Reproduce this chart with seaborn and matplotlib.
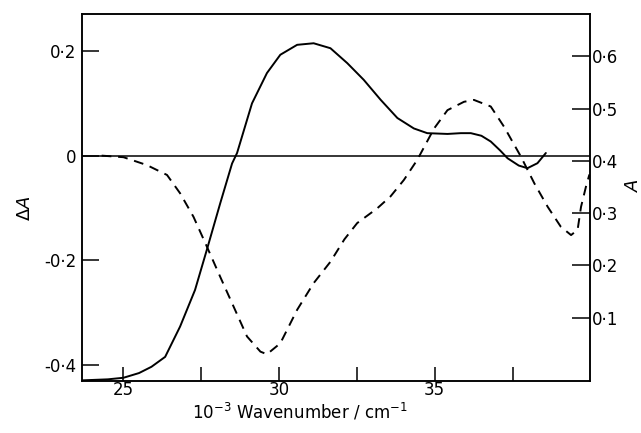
import numpy as np
import pandas as pd
import matplotlib
matplotlib.use("Agg")
import matplotlib.pyplot as plt
import seaborn as sns

# wavenumber (10^-3 cm^-1) and absorbance A (solid, right axis)
wn_abs = [23.66, 24.5, 25.0, 25.5, 25.9, 26.34, 26.82, 27.3, 27.68, 28.11,
          28.49, 28.65, 29.13, 29.61, 30.04, 30.58, 31.11, 31.65, 32.19, 32.72,
          33.26, 33.8, 34.33, 34.76, 35.41, 35.84, 36.16, 36.5, 36.8, 37.1,
          37.34, 37.7, 37.98, 38.3, 38.57]
absorb = [-0.020, -0.018, -0.015, -0.006, 0.006, 0.025, 0.083, 0.153, 0.230, 0.319,
          0.395, 0.415, 0.510, 0.568, 0.603, 0.622, 0.625, 0.6155, 0.587, 0.555,
          0.517, 0.482, 0.462, 0.453, 0.4515, 0.453, 0.453, 0.448, 0.437, 0.420,
          0.405, 0.391, 0.386, 0.3955, 0.415]

# difference spectrum dA (dashed, left axis)
wn_diff = [24.3, 25.0, 25.75, 26.4, 26.82, 27.25, 27.68, 28.11, 28.54, 28.97,
           29.4, 29.61, 30.04, 30.58, 31.11, 31.65, 32.1, 32.51, 33.15, 33.58,
           34.01, 34.44, 34.98, 35.41, 35.94, 36.26, 36.8, 37.23, 37.77, 38.2,
           38.63, 39.05, 39.38, 39.59, 39.7, 39.86, 39.97]
delta_a = [0.0, -0.003, -0.018, -0.037, -0.072, -0.117, -0.174, -0.232, -0.289, -0.346,
           -0.375, -0.380, -0.359, -0.295, -0.244, -0.203, -0.160, -0.129, -0.101, -0.078,
           -0.0465, -0.008, 0.052, 0.087, 0.103, 0.1066, 0.094, 0.055, -0.002, -0.053,
           -0.098, -0.136, -0.152, -0.142, -0.098, -0.059, -0.036]

x_ticks = [25, 27.5, 30, 32.5, 35, 37.5]
x_labels = ["25", "", "30", "", "35", ""]
left_ticks = [-0.4, -0.2, 0, 0.2]
left_labels = ["-0\u00b74", "-0\u00b72", "0", "0\u00b72"]
right_ticks = [0.1, 0.2, 0.3, 0.4, 0.5, 0.6]
right_labels = ["0\u00b71", "0\u00b72", "0\u00b73", "0\u00b74", "0\u00b75", "0\u00b76"]

offset = 0.41  # A value at dA = 0

sns.set_style("ticks")
plt.rcParams['font.family'] = ['DejaVu Sans']
plt.rcParams['font.size'] = 12

fig = plt.figure(figsize=(6.41, 4.33), dpi=100)
ax = fig.add_axes([0.1275, 0.1208, 0.7935, 0.8469])
ax2 = ax.twinx()

df_d = pd.DataFrame({"wn": wn_diff, "dA": delta_a})
df_a = pd.DataFrame({"wn": wn_abs, "A": absorb})

ax.axhline(0, color='black', lw=1.1, zorder=1)
sns.lineplot(data=df_d, x="wn", y="dA", ax=ax, color='black', lw=1.4,
             linestyle=(0, (5, 3.5)), sort=False)
sns.lineplot(data=df_a, x="wn", y="A", ax=ax2, color='black', lw=1.4, sort=False)

ax.set_xlim(23.66, 40.0)
ax.set_ylim(-0.4306, 0.271)
ax2.set_ylim(-0.4306 + offset, 0.271 + offset)

ax.set_xticks(x_ticks)
ax.set_xticklabels(x_labels)
ax.set_yticks(left_ticks)
ax.set_yticklabels(left_labels)
ax2.set_yticks(right_ticks)
ax2.set_yticklabels(right_labels)

ax.tick_params(axis='x', direction='in', length=10, width=1.1, pad=0, labelsize=12,
               colors='black')
ax.tick_params(axis='y', direction='in', length=12, width=1.1, pad=4, labelsize=12,
               colors='black')
ax2.tick_params(axis='y', direction='in', length=13, width=1.1, pad=1, labelsize=12,
                colors='black')

for a in (ax, ax2):
    for s in a.spines.values():
        s.set_linewidth(1.1)
        s.set_color('black')

ax.set_xlabel("10$^{-3}$ Wavenumber / cm$^{-1}$", fontsize=12, color='black')
ax.xaxis.set_label_coords(0.429, -0.056)
ax.xaxis.label.set_va('top')
ax.set_ylabel("\u0394$A$", fontsize=13, color='black')
ax.yaxis.set_label_coords(-0.111, 0.471)
ax.yaxis.label.set_va('center')
ax2.set_ylabel("$A$", fontsize=13, rotation=90, color='black')
ax2.yaxis.set_label_coords(1.083, 0.534)
ax2.yaxis.label.set_va('center')

fig.savefig("out.png", dpi=100)
